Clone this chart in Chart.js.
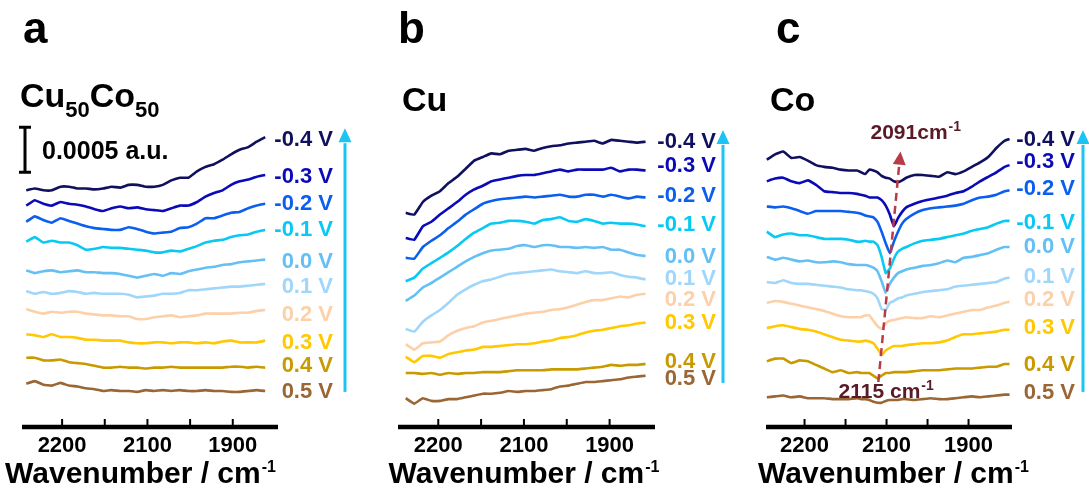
<!DOCTYPE html>
<html>
<head>
<meta charset="utf-8">
<title>In situ ATR-SEIRAS spectra</title>
<script src="https://cdn.jsdelivr.net/npm/chart.js@4.4.0/dist/chart.umd.min.js"></script>
<style>
  html, body { margin: 0; padding: 0; background: #fff; }
  #wrap { position: relative; width: 1089px; height: 489px; overflow: hidden; }
  .panel { position: absolute; top: 0; height: 489px; }
  .panel canvas { display: block; }
</style>
</head>
<body>
<div id="wrap">
  <div class="panel" style="left:0;width:363px"><canvas id="chart-a"></canvas></div>
  <div class="panel" style="left:363px;width:367px"><canvas id="chart-b"></canvas></div>
  <div class="panel" style="left:730px;width:359px"><canvas id="chart-c"></canvas></div>
</div>
<script>
// Potentials, top trace first
const potentials = ["-0.4 V", "-0.3 V", "-0.2 V", "-0.1 V", "0.0 V", "0.1 V", "0.2 V", "0.3 V", "0.4 V", "0.5 V"];
const lineColors = ["#10105e", "#0a0ab8", "#0a5ef0", "#08c8f4", "#64c0f4", "#a0d6fa", "#fcd0a8", "#ffc800", "#c89a00", "#9a6634"];

// x axis ticks (wavenumber, cm-1) and the labels printed under them
const tickValues = [2200, 2150, 2100, 2050, 2000];
const tickLabels = ["2200", "", "2100", "", "1900"];

// Wavenumbers sampled for each panel
const wnA = [2242, 2232, 2222, 2212, 2202, 2192, 2182, 2172, 2162, 2152, 2142, 2132, 2122, 2112, 2102,
  2092, 2082, 2072, 2062, 2052, 2042, 2032, 2022, 2012, 2002, 1992, 1982, 1972, 1962];
const wnB = [2238, 2228, 2218, 2208, 2198, 2188, 2178, 2168, 2158, 2148, 2138, 2128, 2118, 2108, 2098,
  2088, 2078, 2068, 2058, 2048, 2038, 2028, 2018, 2008, 1998, 1988, 1978, 1968, 1958];
const wnC = [2246, 2236, 2226, 2216, 2206, 2196, 2186, 2176, 2166, 2156, 2146, 2136, 2131, 2126, 2121,
  2116, 2111, 2106, 2101, 2096, 2091, 2086, 2081, 2076, 2066, 2056, 2046, 2036, 2026, 2016, 2006, 1996,
  1986, 1976, 1966, 1956, 1950];

// Stacked absorbance, in 1e-5 a.u. (bar = 0.0005 a.u. = 50)
const cucoSpectra = [
  [263, 265, 263, 263, 267, 267, 265, 265, 264, 265, 267, 266, 269, 269, 267, 267, 269, 274, 277, 277, 284, 289, 292, 297, 303, 308, 311, 317, 322], // -0.4
  [246, 252, 248, 246, 250, 248, 247, 245, 242, 240, 243, 245, 243, 244, 242, 241, 240, 243, 246, 246, 250, 256, 260, 263, 269, 273, 275, 278, 280], // -0.3
  [228, 234, 230, 227, 232, 229, 226, 223, 221, 220, 219, 219, 222, 220, 217, 215, 216, 217, 221, 222, 226, 232, 232, 235, 238, 239, 243, 246, 248], // -0.2
  [206, 211, 205, 207, 205, 205, 202, 197, 198, 200, 199, 199, 198, 197, 196, 194, 194, 196, 195, 198, 201, 205, 207, 208, 211, 213, 214, 217, 219], // -0.1
  [174, 171, 173, 174, 172, 173, 174, 172, 172, 171, 171, 170, 168, 166, 168, 170, 168, 171, 170, 173, 175, 177, 178, 180, 181, 183, 184, 185, 186], // 0.0
  [151, 148, 150, 148, 149, 151, 150, 148, 149, 148, 148, 148, 147, 144, 145, 146, 148, 148, 149, 152, 152, 153, 154, 155, 156, 156, 157, 158, 159], // 0.1
  [131, 128, 126, 128, 127, 128, 128, 126, 125, 124, 124, 123, 123, 120, 120, 122, 123, 124, 122, 123, 124, 126, 126, 126, 126, 127, 127, 129, 130], // 0.2
  [103, 102, 100, 103, 100, 100, 99, 97, 97, 96, 96, 96, 94, 93, 93, 94, 94, 93, 94, 94, 93, 94, 93, 95, 96, 94, 94, 94, 96], // 0.3
  [77, 77, 74, 74, 75, 72, 71, 70, 68, 66, 66, 67, 66, 66, 65, 66, 66, 67, 66, 66, 66, 66, 66, 66, 67, 67, 66, 67, 66], // 0.4
  [48, 51, 47, 46, 49, 46, 45, 43, 42, 40, 41, 40, 40, 39, 41, 40, 41, 40, 41, 40, 40, 41, 40, 40, 39, 39, 40, 41, 40], // 0.5
];

const cuSpectra = [
  [238, 236, 250, 257, 262, 271, 278, 287, 296, 300, 304, 303, 307, 308, 309, 307, 310, 312, 313, 315, 316, 317, 318, 315, 319, 318, 317, 316, 317],
  [210, 208, 223, 228, 236, 243, 250, 258, 264, 268, 273, 275, 277, 279, 280, 280, 282, 284, 286, 284, 286, 286, 286, 286, 288, 284, 286, 286, 285],
  [188, 187, 200, 207, 213, 221, 228, 236, 242, 248, 251, 253, 254, 255, 256, 255, 256, 257, 258, 256, 256, 258, 258, 256, 258, 256, 254, 256, 255],
  [162, 166, 176, 182, 188, 194, 201, 209, 216, 221, 226, 227, 229, 229, 228, 226, 230, 231, 233, 229, 228, 231, 229, 226, 227, 226, 226, 225, 223],
  [140, 146, 155, 160, 166, 172, 178, 184, 189, 193, 196, 197, 198, 201, 202, 200, 202, 202, 200, 200, 199, 200, 199, 200, 197, 197, 194, 191, 190],
  [109, 106, 117, 124, 130, 138, 147, 153, 158, 162, 164, 167, 170, 171, 172, 173, 174, 175, 173, 172, 171, 173, 171, 171, 172, 169, 167, 166, 164],
  [92, 86, 93, 94, 95, 102, 107, 110, 112, 116, 118, 120, 122, 124, 126, 127, 128, 130, 131, 133, 136, 139, 141, 141, 143, 145, 144, 147, 148],
  [78, 72, 79, 79, 77, 81, 83, 85, 86, 89, 89, 90, 91, 92, 92, 93, 95, 96, 99, 100, 102, 105, 107, 108, 110, 112, 113, 115, 116],
  [60, 60, 59, 60, 58, 60, 59, 60, 60, 61, 61, 61, 62, 63, 63, 63, 63, 64, 64, 64, 64, 65, 66, 67, 69, 68, 69, 69, 70],
  [32, 26, 32, 29, 29, 31, 31, 33, 35, 37, 37, 38, 40, 39, 40, 40, 41, 42, 45, 46, 48, 50, 50, 51, 52, 53, 55, 56, 57],
];

const coSpectra = [
  [297, 303, 306, 299, 300, 296, 291, 289, 288, 286, 285, 285, 283, 281, 286, 285, 283, 279, 277, 276, 273, 272, 274, 277, 280, 280, 279, 278, 283, 281, 284, 289, 294, 300, 310, 318, 320],
  [273, 276, 277, 273, 271, 274, 269, 262, 261, 260, 260, 259, 258, 257, 255, 255, 255, 252, 246, 236, 223, 232, 239, 244, 248, 251, 253, 255, 257, 260, 262, 267, 273, 278, 283, 289, 291],
  [245, 244, 245, 243, 240, 237, 240, 240, 240, 240, 239, 238, 237, 235, 234, 233, 228, 217, 204, 193, 206, 217, 226, 231, 237, 241, 243, 244, 245, 246, 248, 252, 255, 256, 258, 262, 263],
  [217, 211, 214, 215, 213, 213, 211, 209, 209, 209, 208, 206, 206, 207, 206, 206, 202, 189, 171, 176, 187, 195, 198, 200, 204, 207, 208, 209, 211, 213, 215, 218, 220, 222, 226, 229, 229],
  [189, 186, 188, 186, 184, 185, 183, 183, 184, 183, 181, 180, 180, 180, 179, 177, 173, 162, 149, 159, 166, 171, 173, 175, 177, 179, 180, 182, 185, 183, 188, 189, 191, 193, 197, 200, 200],
  [161, 160, 163, 160, 159, 159, 158, 157, 156, 155, 153, 152, 152, 151, 150, 148, 143, 131, 130, 138, 140, 143, 144, 146, 148, 150, 151, 152, 153, 156, 157, 158, 159, 160, 161, 165, 166],
  [138, 140, 139, 137, 135, 133, 131, 129, 126, 123, 122, 122, 122, 124, 124, 118, 112, 109, 115, 118, 119, 120, 121, 122, 121, 121, 123, 122, 124, 126, 128, 130, 130, 133, 135, 138, 139],
  [110, 112, 113, 111, 109, 108, 106, 103, 100, 97, 96, 95, 95, 96, 95, 93, 87, 80, 85, 88, 90, 90, 90, 91, 92, 93, 93, 94, 96, 100, 103, 103, 104, 105, 106, 108, 108],
  [73, 76, 76, 71, 74, 73, 69, 65, 61, 63, 60, 61, 60, 60, 60, 57, 54, 57, 60, 60, 61, 61, 61, 61, 62, 63, 63, 63, 64, 65, 65, 65, 66, 67, 67, 70, 70],
  [33, 34, 35, 33, 34, 32, 32, 32, 31, 31, 31, 32, 31, 31, 30, 28, 27, 27, 29, 30, 30, 30, 31, 31, 30, 31, 32, 31, 31, 32, 33, 34, 33, 34, 35, 36, 36],
];

// Co-CO band shift marker: [wavenumber, absorbance]
const peakShiftFrom = [2110, 50];
const peakShiftTo = [2083, 306];
const peakLabels = [
  { text: "2091cm", at: [2065, 320] },
  { text: "2115 cm", at: [2101, 32] },
];

const FONT = "'Liberation Sans', Arial, Helvetica, sans-serif";
Chart.defaults.font.family = FONT;

function font(size) {
  return `bold ${size}px ${FONT}`;
}

// text followed by a raised "-1"
function drawWithSup(ctx, x, y, base, size, supSize, center) {
  ctx.font = font(size);
  const w1 = ctx.measureText(base).width;
  ctx.font = font(supSize);
  const w2 = ctx.measureText("-1").width;
  const x0 = center ? x - (w1 + w2) / 2 : x;
  ctx.textAlign = "left";
  ctx.textBaseline = "alphabetic";
  ctx.font = font(size);
  ctx.fillText(base, x0, y);
  ctx.font = font(supSize);
  ctx.fillText("-1", x0 + w1 + 1, y - size * 0.37);
}

function arrowHead(ctx, x1, y1, x2, y2, len, half) {
  const a = Math.atan2(y2 - y1, x2 - x1);
  const bx = x2 - len * Math.cos(a);
  const by = y2 - len * Math.sin(a);
  ctx.beginPath();
  ctx.moveTo(x2, y2);
  ctx.lineTo(bx + half * Math.sin(a), by - half * Math.cos(a));
  ctx.lineTo(bx - half * Math.sin(a), by + half * Math.cos(a));
  ctx.closePath();
  ctx.fill();
  return [bx, by];
}

const panelDecor = {
  id: "panelDecor",
  afterDraw(chart, args, o) {
    const { ctx, chartArea, scales: { x, y } } = chart;
    const left = chartArea.left;
    const right = chartArea.right;
    const bottom = chartArea.bottom;
    ctx.save();

    // thick axis line and inward ticks
    ctx.strokeStyle = "#000";
    ctx.lineWidth = 4.5;
    ctx.beginPath();
    ctx.moveTo(left, bottom);
    ctx.lineTo(right, bottom);
    ctx.stroke();
    ctx.lineWidth = 2;
    tickValues.forEach(v => {
      const px = x.getPixelForValue(v);
      ctx.beginPath();
      ctx.moveTo(px, bottom);
      ctx.lineTo(px, bottom - 8);
      ctx.stroke();
    });

    // axis title
    ctx.fillStyle = "#000";
    drawWithSup(ctx, (left + right) / 2 + o.titleShift, 483, "Wavenumber / cm", 30, 16, true);

    // panel letter and sample name
    ctx.textAlign = "left";
    ctx.textBaseline = "alphabetic";
    ctx.font = font(44);
    ctx.fillText(o.letter, left + o.letterX, 43);
    let tx = left + o.nameX;
    o.name.forEach(([text, sub]) => {
      ctx.font = font(sub ? 22 : 34);
      ctx.fillText(text, tx, sub ? o.nameY + 10 : o.nameY);
      tx += ctx.measureText(text).width;
    });

    // potential labels at the end of each trace
    ctx.font = font(22);
    ctx.textAlign = "right";
    ctx.textBaseline = "middle";
    chart.data.datasets.forEach((ds, i) => {
      const last = ds.data[ds.data.length - 1];
      ctx.fillStyle = ds.borderColor;
      ctx.fillText(ds.label, right + o.labelX, y.getPixelForValue(last.y) + 2 + o.labelNudge[i]);
    });

    // potential sweep arrow
    const ax = right + o.arrowX;
    const ay1 = y.getPixelForValue(o.arrow[0]);
    const ay2 = y.getPixelForValue(o.arrow[1]);
    ctx.fillStyle = "#1cc4f4";
    ctx.strokeStyle = "#1cc4f4";
    ctx.lineWidth = 3;
    const base = arrowHead(ctx, ax, ay1, ax, ay2, 14, 6.5);
    ctx.beginPath();
    ctx.moveTo(ax, ay1);
    ctx.lineTo(ax, base[1] + 1);
    ctx.stroke();

    // scale bar
    if (o.scaleBar) {
      const bx = left + 3;
      const t = y.getPixelForValue(333);
      const b = y.getPixelForValue(283);
      ctx.strokeStyle = "#000";
      ctx.lineWidth = 3;
      ctx.beginPath();
      ctx.moveTo(bx, t); ctx.lineTo(bx, b);
      ctx.moveTo(bx - 6, t); ctx.lineTo(bx + 6, t);
      ctx.moveTo(bx - 6, b); ctx.lineTo(bx + 6, b);
      ctx.stroke();
      ctx.fillStyle = "#000";
      ctx.font = font(25);
      ctx.textAlign = "left";
      ctx.textBaseline = "middle";
      ctx.fillText("0.0005 a.u.", bx + 17, (t + b) / 2 + 2);
    }

    // band shift marker
    if (o.peak) {
      const x1 = x.getPixelForValue(peakShiftFrom[0]);
      const y1 = y.getPixelForValue(peakShiftFrom[1]);
      const x2 = x.getPixelForValue(peakShiftTo[0]);
      const y2 = y.getPixelForValue(peakShiftTo[1]);
      ctx.fillStyle = "#b83c48";
      ctx.strokeStyle = "#b83c48";
      const hb = arrowHead(ctx, x1, y1, x2, y2, 13, 6.5);
      ctx.lineWidth = 2.5;
      ctx.setLineDash([8, 5]);
      ctx.beginPath();
      ctx.moveTo(x1, y1);
      ctx.lineTo(hb[0], hb[1]);
      ctx.stroke();
      ctx.setLineDash([]);
      ctx.fillStyle = "#5a1a27";
      peakLabels.forEach(p => {
        drawWithSup(ctx, x.getPixelForValue(p.at[0]), y.getPixelForValue(p.at[1]), p.text, 21, 14, true);
      });
    }

    ctx.restore();
  },
};

function makePanel(id, wn, spectra, pad, decor) {
  const ctx = document.getElementById(id);
  return new Chart(ctx, {
    type: "line",
    data: {
      datasets: spectra.map((ys, i) => ({
        label: potentials[i],
        data: wn.map((w, j) => ({ x: w, y: ys[j] })),
        borderColor: lineColors[i],
        borderWidth: 2.6,
        pointRadius: 0,
        tension: 0.1,
        fill: false,
      })),
    },
    options: {
      responsive: true,
      maintainAspectRatio: false,
      animation: false,
      events: [],
      layout: { padding: { left: pad[0], right: pad[1], top: 40, bottom: 23.6 } },
      plugins: {
        legend: { display: false },
        tooltip: { enabled: false },
        panelDecor: decor,
      },
      scales: {
        x: {
          type: "linear",
          reverse: true,
          min: 1947,
          max: 2247,
          afterBuildTicks: scale => {
            scale.ticks = tickValues.map(v => ({ value: v }));
          },
          ticks: {
            autoSkip: false,
            maxRotation: 0,
            padding: 6,
            color: "#000",
            font: { size: 22, weight: "bold" },
            callback: (value, index) => tickLabels[index],
          },
          grid: { display: false, drawTicks: false },
          border: { display: false },
        },
        y: { display: false, min: 0, max: 430 },
      },
    },
    plugins: [panelDecor],
  });
}

makePanel("chart-a", wnA, cucoSpectra, [22, 85], {
  letter: "a", letterX: 1, name: [["Cu", 0], ["50", 1], ["Co", 0], ["50", 1]], nameX: -2, nameY: 107,
  labelX: 55, labelNudge: [1, 0, -2, -2, 0, 1, 3, 0, -4, -1],
  arrowX: 67, arrow: [39, 332], titleShift: -10, scaleBar: true,
});
makePanel("chart-b", wnB, cuSpectra, [35, 75], {
  letter: "b", letterX: 0, name: [["Cu", 0]], nameX: 4, nameY: 111,
  labelX: 61, labelNudge: [-2, -7, -4, -3, -1, -2, 4, -2, -4, 1],
  arrowX: 68, arrow: [49, 330], titleShift: -3,
});
makePanel("chart-c", wnC, coSpectra, [36, 77], {
  letter: "c", letterX: 10, name: [["Co", 0]], nameX: 4, nameY: 111,
  labelX: 63, labelNudge: [-1, -5, -3, 0, -2, -3, -4, -4, -1, -4],
  arrowX: 71, arrow: [39, 330], titleShift: 4, peak: true,
});
</script>
</body>
</html>
